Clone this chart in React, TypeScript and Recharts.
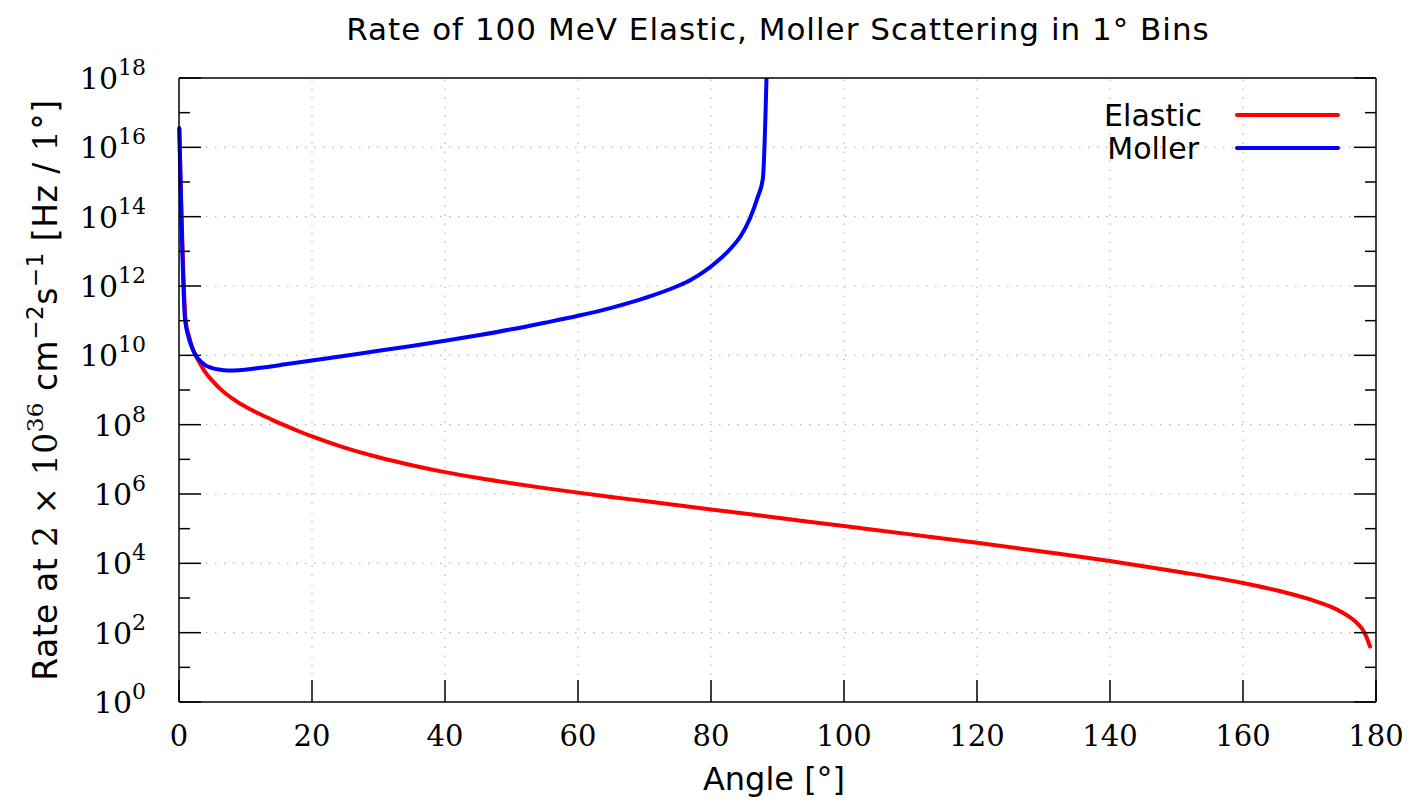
import { LineChart, Line, XAxis, YAxis, ReferenceLine } from "recharts";

// angle ticks (deg) and log10 decades for the rate axis
const ANGLE_TICKS = [0, 20, 40, 60, 80, 100, 120, 140, 160, 180];
const DECADE_TICKS = [0, 1, 2, 3, 4, 5, 6, 7, 8, 9, 10, 11, 12, 13, 14, 15, 16, 17, 18];
const GRID_X = [20, 40, 60, 80, 100, 120, 140, 160];
const GRID_Y = [2, 4, 6, 8, 10, 12, 14, 16];

// Elastic: angle [deg] -> log10(rate)
const ELASTIC_ANGLE = [0.05, 1, 1.5, 2, 2.5, 3, 3.5, 4, 5, 6, 7, 8, 9, 10, 12, 14, 16, 18, 20, 25, 30, 35, 40, 45, 50, 55, 60, 65, 70, 75, 80, 90, 100, 110, 120, 130, 140, 150, 160, 165, 170, 173, 175, 176.5, 177.5, 178, 178.5, 179.1];
const ELASTIC_LOG = [16.55, 11.0, 10.55, 10.22, 10.0, 9.82, 9.65, 9.5, 9.27, 9.07, 8.9, 8.76, 8.63, 8.52, 8.32, 8.14, 7.97, 7.81, 7.66, 7.33, 7.06, 6.83, 6.63, 6.46, 6.31, 6.17, 6.04, 5.915, 5.795, 5.675, 5.555, 5.315, 5.075, 4.835, 4.595, 4.335, 4.065, 3.765, 3.435, 3.225, 2.965, 2.765, 2.575, 2.385, 2.205, 2.085, 1.9, 1.6];

// Moller: angle [deg] -> log10(rate)
const MOLLER_ANGLE = [0.05, 0.9, 1.4, 1.9, 2.5, 3.4, 4, 4.9, 6, 7.4, 9, 12, 16, 20, 25, 30, 35, 40, 45, 50, 55, 60, 65, 70, 75, 77, 79, 81, 83, 84.5, 85.9, 87, 87.8, 88.4];
const MOLLER_LOG = [16.55, 11.05, 10.55, 10.25, 10.0, 9.8, 9.71, 9.64, 9.59, 9.565, 9.57, 9.635, 9.74, 9.85, 9.99, 10.13, 10.27, 10.42, 10.58, 10.75, 10.94, 11.14, 11.37, 11.65, 12.0, 12.18, 12.42, 12.72, 13.09, 13.45, 13.97, 14.55, 15.1, 18.4];

const elastic = ELASTIC_ANGLE.map((a, i) => ({ angle: a, rate: ELASTIC_LOG[i] }));
const moller = MOLLER_ANGLE.map((a, i) => ({ angle: a, rate: MOLLER_LOG[i] }));

const W = 1424, H = 804;
const L = 179, R = 1376, T = 78, B = 702;
const SANS = "'DejaVu Sans', Verdana, sans-serif";
const SERIF = "'DejaVu Serif', Georgia, serif";
const AX = { stroke: "#000", strokeWidth: 1.5 };

function LeftTick(props: any) {
  const { y, payload } = props;
  const v = payload.value;
  const major = v % 2 === 0;
  return (
    <g>
      <line x1={L} x2={L + (major ? 22 : 11)} y1={y} y2={y} stroke="#000" strokeWidth={1.5} />
      {major && (
        <text x={146} y={y + 11} textAnchor="end" fontFamily={SERIF} fontSize={30} fill="#000">
          10<tspan fontSize={22} dy={-14}>{v}</tspan>
        </text>
      )}
    </g>
  );
}

function RightTick(props: any) {
  const { y, payload } = props;
  const major = payload.value % 2 === 0;
  return <line x1={R - (major ? 22 : 11)} x2={R} y1={y} y2={y} stroke="#000" strokeWidth={1.5} />;
}

function BottomTick(props: any) {
  const { x, payload } = props;
  return (
    <g>
      <line x1={x} x2={x} y1={B} y2={B - 22} stroke="#000" strokeWidth={1.5} />
      <text x={x} y={746} textAnchor="middle" fontFamily={SERIF} fontSize={29} fill="#000">{payload.value}</text>
    </g>
  );
}

function TopTick(props: any) {
  const { x } = props;
  return <line x1={x} x2={x} y1={T} y2={T + 22} stroke="#000" strokeWidth={1.5} />;
}

export default function App() {
  return (
    <div style={{ position: "absolute", left: 0, top: 0, width: W, height: H, background: "#fff" }}>
      <LineChart width={W} height={H} margin={{ top: 68, right: 38, bottom: 42, left: 0 }}>
        <XAxis xAxisId="bottom" type="number" dataKey="angle" domain={[0, 180]} ticks={ANGLE_TICKS}
          interval={0} height={60} axisLine={AX} tickLine={false} tick={<BottomTick />} />
        <XAxis xAxisId="top" orientation="top" type="number" dataKey="angle" domain={[0, 180]} ticks={ANGLE_TICKS}
          interval={0} height={10} axisLine={AX} tickLine={false} tick={<TopTick />} />
        <YAxis yAxisId="left" type="number" domain={[0, 18]} ticks={DECADE_TICKS} interval={0} allowDataOverflow
          width={179} axisLine={AX} tickLine={false} tick={<LeftTick />} />
        <YAxis yAxisId="right" orientation="right" type="number" domain={[0, 18]} ticks={DECADE_TICKS} interval={0}
          allowDataOverflow width={10} axisLine={AX} tickLine={false} tick={<RightTick />} />
        {GRID_Y.map((v) => (
          <ReferenceLine key={"gy" + v} xAxisId="bottom" yAxisId="left" y={v} stroke="#b8b8b8" strokeWidth={1.2} strokeDasharray="1.5 7.5" />
        ))}
        {GRID_X.map((v) => (
          <ReferenceLine key={"gx" + v} xAxisId="bottom" yAxisId="left" x={v} stroke="#b8b8b8" strokeWidth={1.2} strokeDasharray="1.5 7.5" />
        ))}
        <Line xAxisId="bottom" yAxisId="left" data={elastic} dataKey="rate" type="monotoneX" stroke="#ff0000"
          strokeWidth={4} dot={false} strokeLinecap="round" strokeLinejoin="round" isAnimationActive={false} />
        <Line xAxisId="bottom" yAxisId="left" data={moller} dataKey="rate" type="monotoneX" stroke="#0000ff"
          strokeWidth={4} dot={false} strokeLinecap="round" strokeLinejoin="round" isAnimationActive={false} />
      </LineChart>
      <svg width={W} height={H} style={{ position: "absolute", left: 0, top: 0, pointerEvents: "none" }}>
        <text x={778} y={40} textAnchor="middle" fontFamily={SANS} fontSize={31} letterSpacing={1} fill="#000">
          Rate of 100 MeV Elastic, Moller Scattering in 1° Bins
        </text>
        <text x={774} y={790} textAnchor="middle" fontFamily={SANS} fontSize={32} fill="#000">
          Angle [°]
        </text>
        <text transform="rotate(-90)" x={-390} y={57} textAnchor="middle" fontFamily={SANS} fontSize={33} letterSpacing={0.5} fill="#000">
          Rate at <tspan fontFamily={SERIF}>2 × 10</tspan>
          <tspan fontFamily={SERIF} fontSize={23} dy={-14}>36</tspan>
          <tspan dy={14}> cm</tspan>
          <tspan fontSize={23} dy={-14}>−2</tspan>
          <tspan dy={14}>s</tspan>
          <tspan fontSize={23} dy={-14}>−1</tspan>
          <tspan dy={14}>  [Hz / </tspan>
          <tspan fontFamily={SERIF}>1°</tspan>
          <tspan>]</tspan>
        </text>
        <text x={1202} y={126} textAnchor="end" fontFamily={SANS} fontSize={30} fill="#000">Elastic</text>
        <line x1={1237} x2={1338} y1={115} y2={115} stroke="#ff0000" strokeWidth={4} strokeLinecap="round" />
        <text x={1199} y={159} textAnchor="end" fontFamily={SANS} fontSize={30} fill="#000">Moller</text>
        <line x1={1237} x2={1338} y1={148} y2={148} stroke="#0000ff" strokeWidth={4} strokeLinecap="round" />
      </svg>
    </div>
  );
}
